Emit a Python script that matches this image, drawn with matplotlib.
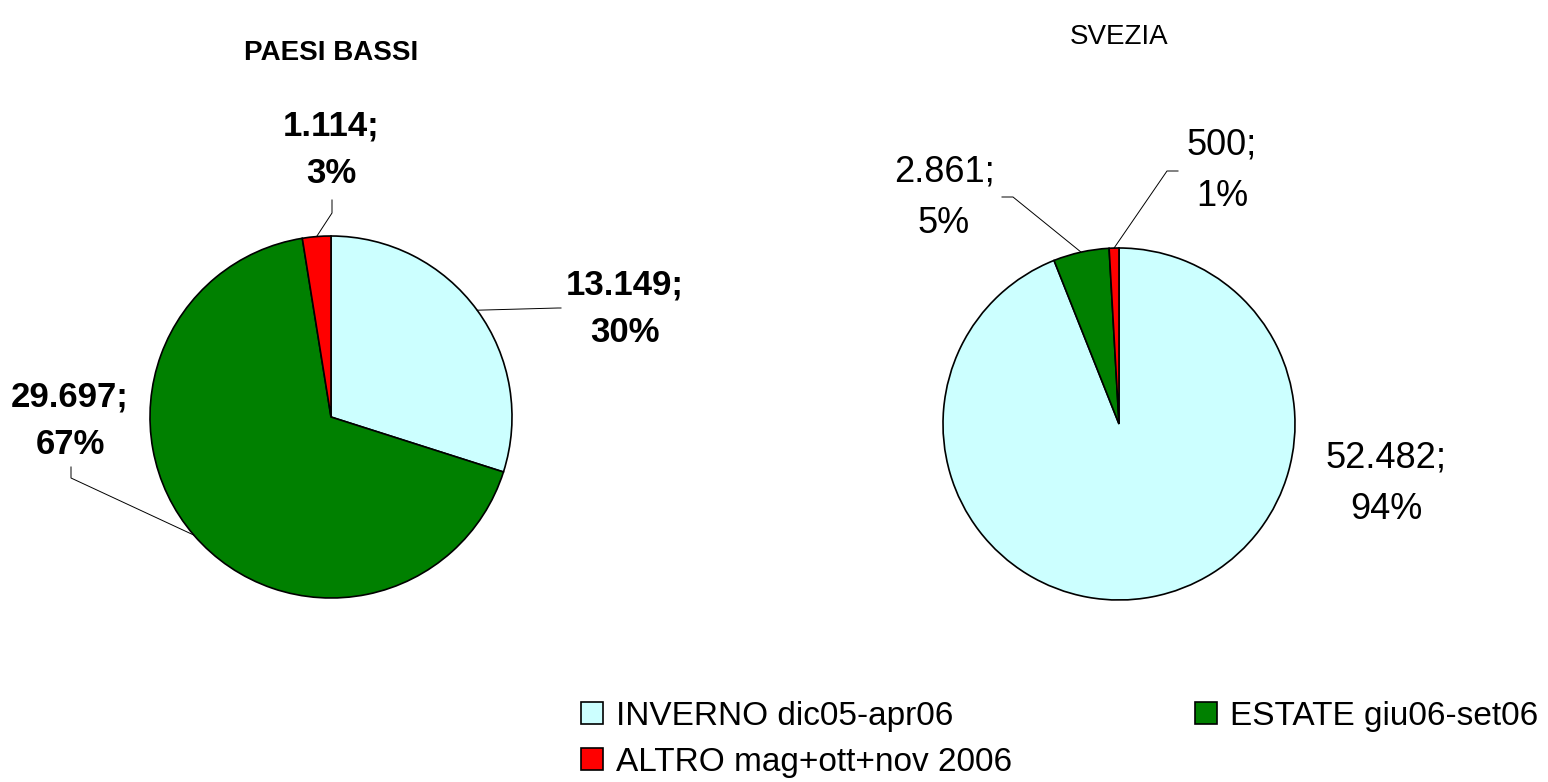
import numpy as np
import matplotlib
matplotlib.use("Agg")
import matplotlib.pyplot as plt

# data
categories = ["INVERNO dic05-apr06", "ESTATE giu06-set06", "ALTRO mag+ott+nov 2006"]
paesi_bassi = [13149, 29697, 1114]
svezia = [52482, 2861, 500]
label_pb = ["13.149;\n30%", "29.697;\n67%", "1.114;\n3%"]
label_se = ["52.482;\n94%", "2.861;\n5%", "500;\n1%"]
colors = ["#CCFFFF", "#008000", "#FF0000"]

W, H = 1548, 782
plt.rcParams["font.family"] = ["Liberation Sans", "DejaVu Sans"]

fig = plt.figure(figsize=(W / 100, H / 100), dpi=100)
ax = fig.add_axes([0, 0, 1, 1])


def Y(y):
    # pixel row -> data y
    return H - y


def draw_pie(values, labels, cx, cy, r, label_pos, elbows, weight, size, lsp):
    wedges, _ = ax.pie(values, colors=colors, startangle=90, counterclock=False,
                       center=(cx, Y(cy)), radius=r,
                       wedgeprops=dict(edgecolor="black", linewidth=1.2))
    for w, lab, pos, elb in zip(wedges, labels, label_pos, elbows):
        ax.text(pos[0], Y(pos[1]), lab, ha="center", va="center", fontsize=size,
                fontweight=weight, linespacing=lsp)
        if elb is None:
            continue
        # leader line from the wedge's mid-angle on the rim to the label
        mid = np.deg2rad((w.theta1 + w.theta2) / 2)
        ex, ey = cx + r * np.cos(mid), Y(cy) + r * np.sin(mid)
        xs = [ex, elb[0][0], elb[1][0]]
        ys = [ey, Y(elb[0][1]), Y(elb[1][1])]
        ax.plot(xs, ys, color="black", linewidth=0.7)
    return wedges


wedges = draw_pie(paesi_bassi, label_pb, 331, 417, 181,
                  [(625, 309), (70, 421), (331, 150)],
                  [((558, 308), (561, 308)), ((71, 478), (71, 467)), ((332, 213), (332, 200))],
                  "bold", 25, 1.55)
draw_pie(svezia, label_se, 1119, 424, 176,
         [(1386, 484), (944, 198), (1222, 171)],
         [None, ((1013, 197), (1002, 197)), ((1167, 171), (1178, 171))],
         "normal", 26, 1.6)

ax.text(331, Y(53), "PAESI BASSI", ha="center", va="center", fontsize=20, fontweight="bold")
ax.text(1119, Y(37), "SVEZIA", ha="center", va="center", fontsize=20)

order = [0, 2, 1]
ax.legend([wedges[i] for i in order], [categories[i] for i in order], ncol=2,
          loc="upper left", bbox_to_anchor=(581 / W, 1 - 701 / H), frameon=False,
          fontsize=24, handlelength=0.65, handleheight=0.65, handletextpad=0.4,
          columnspacing=5.5, labelspacing=0.45, borderaxespad=0, borderpad=0)

ax.set_aspect("auto")
ax.set_xlim(0, W)
ax.set_ylim(0, H)
ax.axis("off")

fig.savefig("out.png", dpi=100)
